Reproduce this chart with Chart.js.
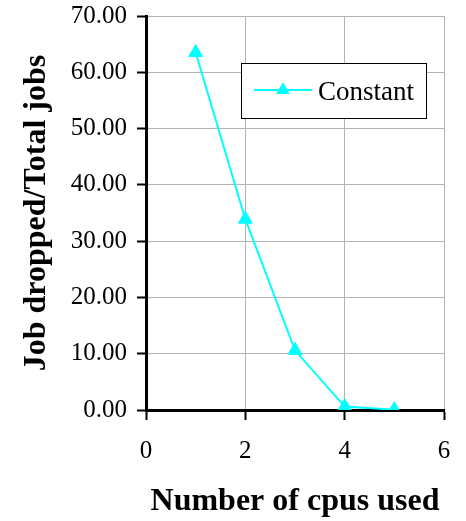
<!DOCTYPE html>
<html>
<head>
<meta charset="utf-8">
<script src="https://cdn.jsdelivr.net/npm/chart.js@4/dist/chart.umd.min.js"></script>
<style>
html,body{margin:0;padding:0;background:#fff;}
#c{display:block;}
</style>
</head>
<body>
<canvas id="c" width="466" height="521"></canvas>
<script>
const cpus = [1, 2, 3, 4, 5];
const dropped = [63.5, 33.9, 10.6, 0.6, 0.05];
const seriesLabel = 'Constant';
const xTitle = 'Number of cpus used';
const yTitle = 'Job dropped/Total jobs';
const xTicks = [0, 2, 4, 6];
const yTicks = [0, 10, 20, 30, 40, 50, 60, 70];

const SERIF = "'Liberation Serif', 'Times New Roman', serif";
const CYAN = '#00FFFF';

const legendPlugin = {
  id: 'insideLegend',
  afterDraw(chart) {
    const ctx = chart.ctx;
    const ds = chart.data.datasets[0];
    const bx = 241, by = 63, bw = 185, bh = 55;
    ctx.save();
    ctx.fillStyle = '#fff';
    ctx.fillRect(bx, by, bw, bh);
    ctx.strokeStyle = '#000';
    ctx.lineWidth = 1;
    ctx.strokeRect(bx + 0.5, by + 0.5, bw, bh);
    const cy = by + 27;
    ctx.strokeStyle = ds.borderColor;
    ctx.lineWidth = ds.borderWidth;
    ctx.beginPath();
    ctx.moveTo(bx + 13, cy);
    ctx.lineTo(bx + 71, cy);
    ctx.stroke();
    ctx.fillStyle = ds.pointBackgroundColor;
    ctx.beginPath();
    const r = ds.pointRadius;
    ctx.moveTo(bx + 42, cy - r);
    ctx.lineTo(bx + 42 + r * 0.866, cy + r * 0.5);
    ctx.lineTo(bx + 42 - r * 0.866, cy + r * 0.5);
    ctx.closePath();
    ctx.fill();
    ctx.fillStyle = '#000';
    ctx.font = '27px ' + SERIF;
    ctx.textBaseline = 'alphabetic';
    ctx.textAlign = 'left';
    ctx.fillText(ds.label, bx + 77, by + 37);
    ctx.restore();
  }
};

new Chart(document.getElementById('c'), {
  type: 'scatter',
  data: {
    datasets: [{
      label: seriesLabel,
      data: cpus.map((x, i) => ({x: x, y: dropped[i]})),
      showLine: true,
      borderColor: CYAN,
      borderWidth: 2,
      backgroundColor: CYAN,
      pointBackgroundColor: CYAN,
      pointBorderColor: CYAN,
      pointStyle: 'triangle',
      pointRadius: 8,
      pointBorderWidth: 1,
      tension: 0
    }]
  },
  options: {
    responsive: false,
    animation: false,
    devicePixelRatio: 1,
    layout: {padding: {top: 16, right: 22, left: 0, bottom: 0}},
    plugins: {legend: {display: false}, tooltip: {enabled: false}},
    scales: {
      x: {
        type: 'linear',
        min: xTicks[0],
        max: xTicks[xTicks.length - 1],
        afterBuildTicks: s => { s.ticks = xTicks.map(v => ({value: v})); },
        afterFit: s => { s.height = 111; s.paddingLeft = 0; s.paddingRight = 0; },
        ticks: {
          color: '#000',
          font: {family: SERIF, size: 25},
          padding: 16,
          maxRotation: 0,
          callback: v => String(v)
        },
        grid: {
          color: '#b3b3b3',
          lineWidth: 1,
          tickColor: '#000',
          tickWidth: 2,
          tickLength: 10,
          drawTicks: true
        },
        border: {color: '#000', width: 3},
        title: {
          display: true,
          text: xTitle,
          color: '#000',
          font: {family: SERIF, size: 32, weight: 'bold'},
          padding: {top: 0, bottom: 0}
        }
      },
      y: {
        min: yTicks[0],
        max: yTicks[yTicks.length - 1],
        afterBuildTicks: s => { s.ticks = yTicks.map(v => ({value: v})); },
        afterFit: s => { s.width = 146; s.paddingTop = 0; s.paddingBottom = 0; },
        ticks: {
          color: '#000',
          font: {family: SERIF, size: 25},
          padding: 10,
          callback: v => Number(v).toFixed(2)
        },
        grid: {
          color: '#b3b3b3',
          lineWidth: 1,
          tickColor: '#000',
          tickWidth: 2,
          tickLength: 9
        },
        border: {color: '#000', width: 3},
        title: {
          display: true,
          text: yTitle,
          color: '#000',
          font: {family: SERIF, size: 32, weight: 'bold'},
          padding: {top: 18, bottom: 0}
        }
      }
    }
  },
  plugins: [legendPlugin]
});
</script>
</body>
</html>
